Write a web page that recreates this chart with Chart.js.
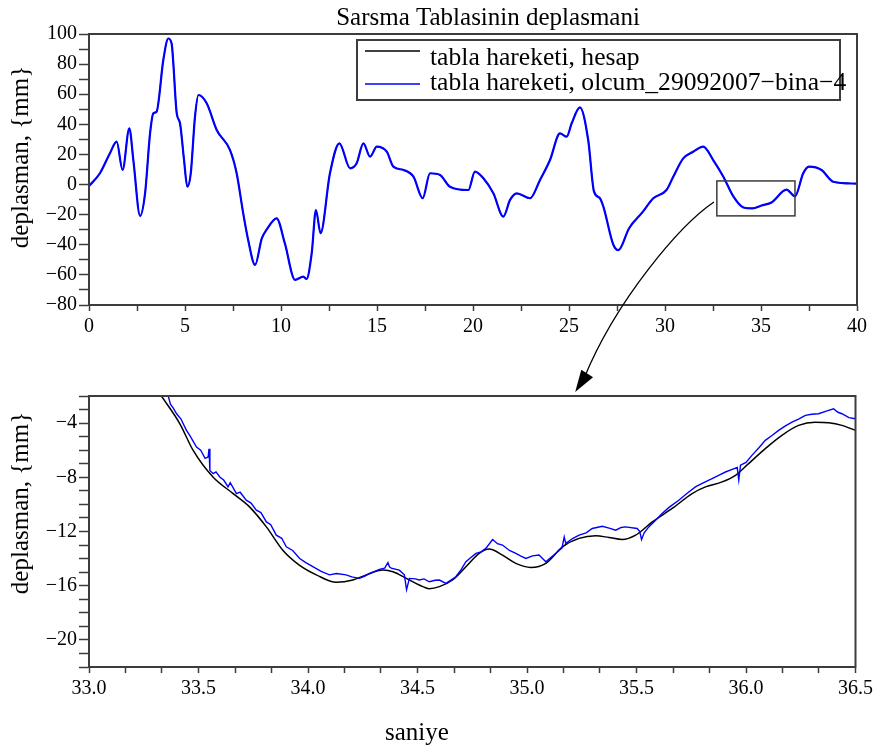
<!DOCTYPE html>
<html>
<head>
<meta charset="utf-8">
<script src="https://cdn.jsdelivr.net/npm/chart.js@4.4.1/dist/chart.umd.min.js"></script>
<style>
  html, body { margin: 0; padding: 0; background: #fff; }
  #wrap { position: relative; width: 877px; height: 753px; }
  canvas { position: absolute; left: 0; top: 0; }
  #top { z-index: 2; }
</style>
</head>
<body>
<div id="wrap">
  <canvas id="bottom" width="877" height="753"></canvas>
  <canvas id="top" width="877" height="753"></canvas>
</div>
<script>
// ---- texts ----
const TITLE = "Sarsma Tablasinin deplasmani";
const LABEL_HESAP = "tabla hareketi, hesap";
const LABEL_OLCUM = "tabla hareketi, olcum_29092007\u2212bina\u22124";
const Y_TITLE = "deplasman, {mm}";
const X_TITLE = "saniye";

// ---- top panel: whole record, 0..40 s ----
const topTime = [0, 0.57, 1.09, 1.44, 1.75, 2.1, 2.31, 2.66, 2.92, 3.18, 3.35, 3.52, 3.87, 4.13, 4.3,
  4.57, 4.74, 4.95, 5.12, 5.3, 5.52, 5.7, 6.13, 6.65, 7.34, 7.69, 8.03, 8.29, 8.65, 9.0, 9.25,
  9.77, 10.2, 10.73, 11.16, 11.33, 11.6, 11.82, 12.06, 12.55, 13.04, 13.6, 13.94, 14.29, 14.64,
  14.99, 15.51, 15.85, 16.38, 16.9, 17.38, 17.76, 18.28, 18.8, 19.76, 20.1, 20.54, 21.06, 21.58,
  21.93, 22.28, 22.97, 23.49, 24.01, 24.53, 24.88, 25.14, 25.57, 26.0, 26.3, 26.61, 26.79, 27.31,
  27.57, 28.13, 28.82, 29.39, 30.08, 30.43, 30.95, 31.47, 31.99, 32.51, 33.04, 33.56, 34.08,
  34.55, 35.03, 35.55, 36.33, 36.77, 37.2, 37.5, 38.15, 38.76, 39.98];
const topOlcum = [-1, 7.5, 20.8, 28.5, 9.7, 37.4, 16.3, -20.8, -5.8, 34, 47.3, 48.4, 82.7, 97, 93.8,
  47.3, 40.7, 16.3, -1.4, 7.5, 45, 59.5, 54, 36.3, 23, 7.5, -19, -36.8, -53.4, -35.7, -30,
  -22.4, -39, -63.3, -61.1, -62.7, -45.6, -16.9, -32.3, 7.5, 27.4, 10.8, 14.1, 27.4, 18.5,
  25.2, 21.8, 11.9, 9.7, 5.2, -9.1, 7.5, 6.4, -1.4, -3.6, 8.6, 4.2, -5.8, -21.3,
  -10.2, -5.8, -9.1, 3, 16.3, 34, 31.8, 40.7, 51.3, 29.6, -4.5, -9.1, -14.7, -40,
  -43.6, -29, -18.5, -9.1, -3.6, 5.2, 17.4, 21.8, 25.2, 16.3, 5.2, -7.9, -15.2,
  -15.8, -13.9, -11.9, -3.4, -7.8, 7.5, 11.9, 9.7, 1.9, 0.6];
// the computed motion lies under the measured trace at this scale
const topHesap = topOlcum;

const topXTicks = [0, 2.5, 5, 7.5, 10, 12.5, 15, 17.5, 20, 22.5, 25, 27.5, 30, 32.5, 35, 37.5, 40];
const topXLabels = [0, 5, 10, 15, 20, 25, 30, 35, 40];
const topYLabels = [-80, -60, -40, -20, 0, 20, 40, 60, 80, 100];

// zoom window marked on the top panel (data units)
const zoomBoxX = [32.7, 36.77];
const zoomBoxY = [-20.8, 2.4];
const arrowFrom = [32.55, -11.6];   // top panel data
const arrowTo = 35.22;              // bottom panel x, at its top edge

// ---- bottom panel: 33.0..36.5 s ----
const hesapTime = [33.331, 33.415, 33.475, 33.566, 33.658, 33.734, 33.81, 33.886, 33.962, 34.038,
  34.129, 34.205, 34.266, 34.342, 34.388, 34.449, 34.508, 34.554, 34.6, 34.66, 34.721, 34.782,
  34.827, 34.888, 34.949, 35.017, 35.086, 35.162, 35.238, 35.314, 35.374, 35.435, 35.496, 35.572,
  35.663, 35.754, 35.815, 35.891, 35.952, 36.012, 36.088, 36.164, 36.24, 36.316, 36.377, 36.438, 36.5];
const hesapValues = [-2.01, -4.05, -6.0, -7.98, -9.2, -10.2, -11.66, -13.4, -14.5, -15.2,
  -15.75, -15.58, -15.2, -14.85, -14.97, -15.46, -15.95, -16.22, -16.07, -15.58, -14.6, -13.62,
  -13.3, -13.74, -14.35, -14.65, -14.35, -13.13, -12.51, -12.32, -12.44, -12.59, -12.27, -11.29,
  -10.3, -9.2, -8.71, -8.34, -7.85, -6.99, -5.88, -4.9, -4.17, -3.93, -3.97, -4.17, -4.54];

const olcumTime = [33.361, 33.372, 33.385, 33.4, 33.42, 33.445, 33.46, 33.491, 33.51, 33.53, 33.544,
  33.548, 33.552, 33.567, 33.58, 33.597, 33.615, 33.635, 33.645, 33.673, 33.69, 33.718, 33.74,
  33.764, 33.785, 33.81, 33.83, 33.855, 33.88, 33.901, 33.93, 33.962, 33.99, 34.022, 34.06,
  34.098, 34.13, 34.174, 34.2, 34.235, 34.26, 34.281, 34.31, 34.326, 34.35, 34.365, 34.372,
  34.38, 34.417, 34.44, 34.45, 34.463, 34.49, 34.508, 34.53, 34.554, 34.58, 34.6, 34.63,
  34.675, 34.7, 34.721, 34.745, 34.767, 34.79, 34.812, 34.843, 34.865, 34.888, 34.92, 34.949,
  34.97, 34.995, 35.025, 35.055, 35.086, 35.11, 35.131, 35.16, 35.17, 35.177, 35.21, 35.238,
  35.27, 35.298, 35.344, 35.375, 35.405, 35.43, 35.45, 35.503, 35.515, 35.523, 35.535, 35.556,
  35.585, 35.617, 35.65, 35.693, 35.73, 35.769, 35.8, 35.845, 35.875, 35.906, 35.94, 35.96,
  35.967, 35.975, 36.0, 36.027, 36.06, 36.088, 36.12, 36.149, 36.18, 36.21, 36.24, 36.271,
  36.3, 36.331, 36.37, 36.4, 36.42, 36.438, 36.47, 36.5];
const olcumValues = [-1.96, -2.6, -2.9, -3.31, -3.7, -4.54, -4.9, -5.77, -6.0, -6.6, -6.5,
  -5.9, -7.5, -7.73, -7.6, -7.98, -8.2, -8.71, -8.4, -9.2, -9.1, -9.69, -9.9,
  -10.43, -10.6, -11.29, -11.5, -12.27, -12.5, -13.13, -13.4, -13.99, -14.3, -14.6, -14.95,
  -15.2, -15.1, -15.2, -15.35, -15.46, -15.3, -15.09, -14.9, -14.8, -14.7, -14.3, -14.6,
  -14.7, -14.85, -15.2, -16.3, -15.46, -15.5, -15.58, -15.5, -15.71, -15.6, -15.58, -15.83,
  -15.34, -14.8, -14.23, -13.9, -13.62, -13.5, -13.25, -12.59, -12.9, -13.0, -13.4, -13.62,
  -13.8, -13.99, -13.8, -13.74, -14.23, -13.9, -13.62, -13.2, -12.4, -12.88, -12.5, -12.27,
  -12.1, -11.78, -11.61, -11.75, -11.9, -11.7, -11.66, -11.78, -12.0, -12.6, -12.1, -11.66,
  -11.2, -10.67, -10.2, -9.69, -9.2, -8.71, -8.45, -8.1, -7.85, -7.61, -7.4, -7.28,
  -8.2, -7.1, -6.9, -6.38, -5.8, -5.27, -4.9, -4.54, -4.2, -3.93, -3.7, -3.43,
  -3.35, -3.31, -3.1, -2.94, -3.2, -3.31, -3.6, -3.68];

const bottomXTicks = [33.0, 33.1667, 33.3333, 33.5, 33.6667, 33.8333, 34.0, 34.1667, 34.3333, 34.5,
  34.6667, 34.8333, 35.0, 35.1667, 35.3333, 35.5, 35.6667, 35.8333, 36.0, 36.1667, 36.3333, 36.5];
const bottomXLabels = [33.0, 33.5, 34.0, 34.5, 35.0, 35.5, 36.0, 36.5];
const bottomYLabels = [-20, -16, -12, -8, -4];

const FONT = "'Liberation Serif', 'Times New Roman', serif";
const AXIS_COLOR = '#3c3c3c';

function points(xs, ys) {
    return xs.map((x, i) => ({ x: x, y: ys[i] }));
}

function signed(v) {
    return v < 0 ? '\u2212' + Math.abs(v) : String(v);
}

function isIn(list, v) {
    return list.some((l) => Math.abs(l - v) < 1e-6);
}

function axis(extra) {
    return Object.assign({
        type: 'linear',
        grid: {
            drawOnChartArea: false,
            drawTicks: true,
            tickLength: 10,
            tickColor: AXIS_COLOR,
            tickWidth: 1.5,
        },
        border: { display: true, color: AXIS_COLOR, width: 2 },
        ticks: {
            color: '#000',
            font: { family: FONT, size: 20 },
            autoSkip: false,
            maxRotation: 0,
            padding: 2,
        },
    }, extra);
}

function xAxis(min, max, tickList, labelList, fixed) {
    const a = axis({ min: min, max: max });
    a.grid.tickLength = 6;
    a.ticks.padding = 4;
    a.afterBuildTicks = (scale) => { scale.ticks = tickList.map((v) => ({ value: v })); };
    a.afterFit = (scale) => { scale.height = 30; };
    a.ticks.callback = (v) => isIn(labelList, v) ? (fixed ? Number(v).toFixed(1) : signed(v)) : '';
    return a;
}

function yAxis(min, max, step, labelList) {
    const a = axis({ min: min, max: max });
    a.ticks.stepSize = step;
    a.afterFit = (scale) => { scale.width = 89; };
    a.ticks.callback = (v) => isIn(labelList, v) ? signed(v) : '';
    return a;
}

// frame on all four sides of the plot
const framePlugin = {
    id: 'frame',
    afterDatasetsDraw(chart) {
        const a = chart.chartArea;
        const ctx = chart.ctx;
        ctx.save();
        ctx.strokeStyle = AXIS_COLOR;
        ctx.lineWidth = 2;
        ctx.strokeRect(a.left, a.top, a.right - a.left, a.bottom - a.top);
        ctx.restore();
    },
};

function drawYTitle(ctx, cy) {
    ctx.save();
    ctx.translate(28, cy);
    ctx.rotate(-Math.PI / 2);
    ctx.fillStyle = '#000';
    ctx.font = '25px ' + FONT;
    ctx.textAlign = 'center';
    ctx.textBaseline = 'alphabetic';
    ctx.fillText(Y_TITLE, 0, 0);
    ctx.restore();
}

const baseOptions = (scales, padding) => ({
    responsive: false,
    animation: false,
    devicePixelRatio: 1,
    layout: { padding: padding },
    elements: { line: { cubicInterpolationMode: 'monotone' }, point: { radius: 0 } },
    plugins: { legend: { display: false }, tooltip: { enabled: false } },
    events: [],
    scales: scales,
});

// ---- bottom chart (created first so the arrow can find its scale) ----
const bottomChart = new Chart(document.getElementById('bottom'), {
    type: 'line',
    data: {
        datasets: [
            {
                label: LABEL_HESAP,
                data: points(hesapTime, hesapValues),
                borderColor: '#000000',
                borderWidth: 1.5,
                order: 2,
            },
            {
                label: LABEL_OLCUM,
                data: points(olcumTime, olcumValues),
                borderColor: '#0000ff',
                borderWidth: 1.4,
                cubicInterpolationMode: 'default',
                tension: 0,
                order: 1,
            },
        ],
    },
    options: baseOptions({
        x: xAxis(33.0, 36.5, bottomXTicks, bottomXLabels, true),
        y: yAxis(-22, -2, 1, bottomYLabels),
    }, { left: 0, right: 20, top: 396, bottom: 56 }),
    plugins: [framePlugin, {
        id: 'bottomTexts',
        afterDraw(chart) {
            const ctx = chart.ctx;
            drawYTitle(ctx, 503);
            ctx.save();
            ctx.fillStyle = '#000';
            ctx.font = '25px ' + FONT;
            ctx.textAlign = 'left';
            ctx.fillText(X_TITLE, 385, 740);
            ctx.restore();
        },
    }],
});

// ---- top chart ----
new Chart(document.getElementById('top'), {
    type: 'line',
    data: {
        datasets: [
            {
                label: LABEL_HESAP,
                data: points(topTime, topHesap),
                borderColor: '#000000',
                borderWidth: 1.2,
                order: 2,
            },
            {
                label: LABEL_OLCUM,
                data: points(topTime, topOlcum),
                borderColor: '#0000ff',
                borderWidth: 2.2,
                order: 1,
            },
        ],
    },
    options: baseOptions({
        x: xAxis(0, 40, topXTicks, topXLabels, false),
        y: yAxis(-80, 100, 10, topYLabels),
    }, { left: 0, right: 20, top: 34, bottom: 418 }),
    plugins: [framePlugin, {
        id: 'topDecor',
        afterDraw(chart) {
            const ctx = chart.ctx;
            const xs = chart.scales.x;
            const ys = chart.scales.y;

            // title
            ctx.save();
            ctx.fillStyle = '#000';
            ctx.font = '25px ' + FONT;
            ctx.textAlign = 'center';
            ctx.fillText(TITLE, 488, 25);
            ctx.restore();

            drawYTitle(ctx, 157);

            // legend
            ctx.save();
            ctx.strokeStyle = AXIS_COLOR;
            ctx.lineWidth = 2;
            ctx.strokeRect(357, 40, 483, 60);
            const ds = chart.data.datasets;
            const rows = [[51, 65], [84, 90]];
            ds.forEach((d, i) => {
                ctx.strokeStyle = d.borderColor;
                ctx.lineWidth = 1.5;
                ctx.beginPath();
                ctx.moveTo(365, rows[i][0]);
                ctx.lineTo(420, rows[i][0]);
                ctx.stroke();
                ctx.fillStyle = '#000';
                ctx.font = '25.6px ' + FONT;
                ctx.textAlign = 'left';
                ctx.fillText(d.label, 430, rows[i][1]);
            });
            ctx.restore();

            // zoom window
            const x0 = xs.getPixelForValue(zoomBoxX[0]);
            const x1 = xs.getPixelForValue(zoomBoxX[1]);
            const y0 = ys.getPixelForValue(zoomBoxY[1]);
            const y1 = ys.getPixelForValue(zoomBoxY[0]);
            ctx.save();
            ctx.strokeStyle = AXIS_COLOR;
            ctx.lineWidth = 1.5;
            ctx.strokeRect(x0, y0, x1 - x0, y1 - y0);

            // arrow down to the detail panel
            const sx = xs.getPixelForValue(arrowFrom[0]);
            const sy = ys.getPixelForValue(arrowFrom[1]);
            const tx = bottomChart.scales.x.getPixelForValue(arrowTo);
            const ty = bottomChart.chartArea.top - 4;
            ctx.strokeStyle = '#000';
            ctx.lineWidth = 1.3;
            ctx.beginPath();
            ctx.moveTo(sx, sy);
            ctx.bezierCurveTo(sx - 34, sy + 23, tx + 41, ty - 92, tx + 9, ty - 14);
            ctx.stroke();
            const ang = Math.atan2(20, -13);
            const hl = 22, hw = 7;
            const bx = tx - hl * Math.cos(ang), by = ty - hl * Math.sin(ang);
            const px = -Math.sin(ang), py = Math.cos(ang);
            ctx.fillStyle = '#000';
            ctx.beginPath();
            ctx.moveTo(tx, ty);
            ctx.lineTo(bx + hw * px, by + hw * py);
            ctx.lineTo(bx - hw * px, by - hw * py);
            ctx.closePath();
            ctx.fill();
            ctx.restore();
        },
    }],
});
</script>
</body>
</html>
